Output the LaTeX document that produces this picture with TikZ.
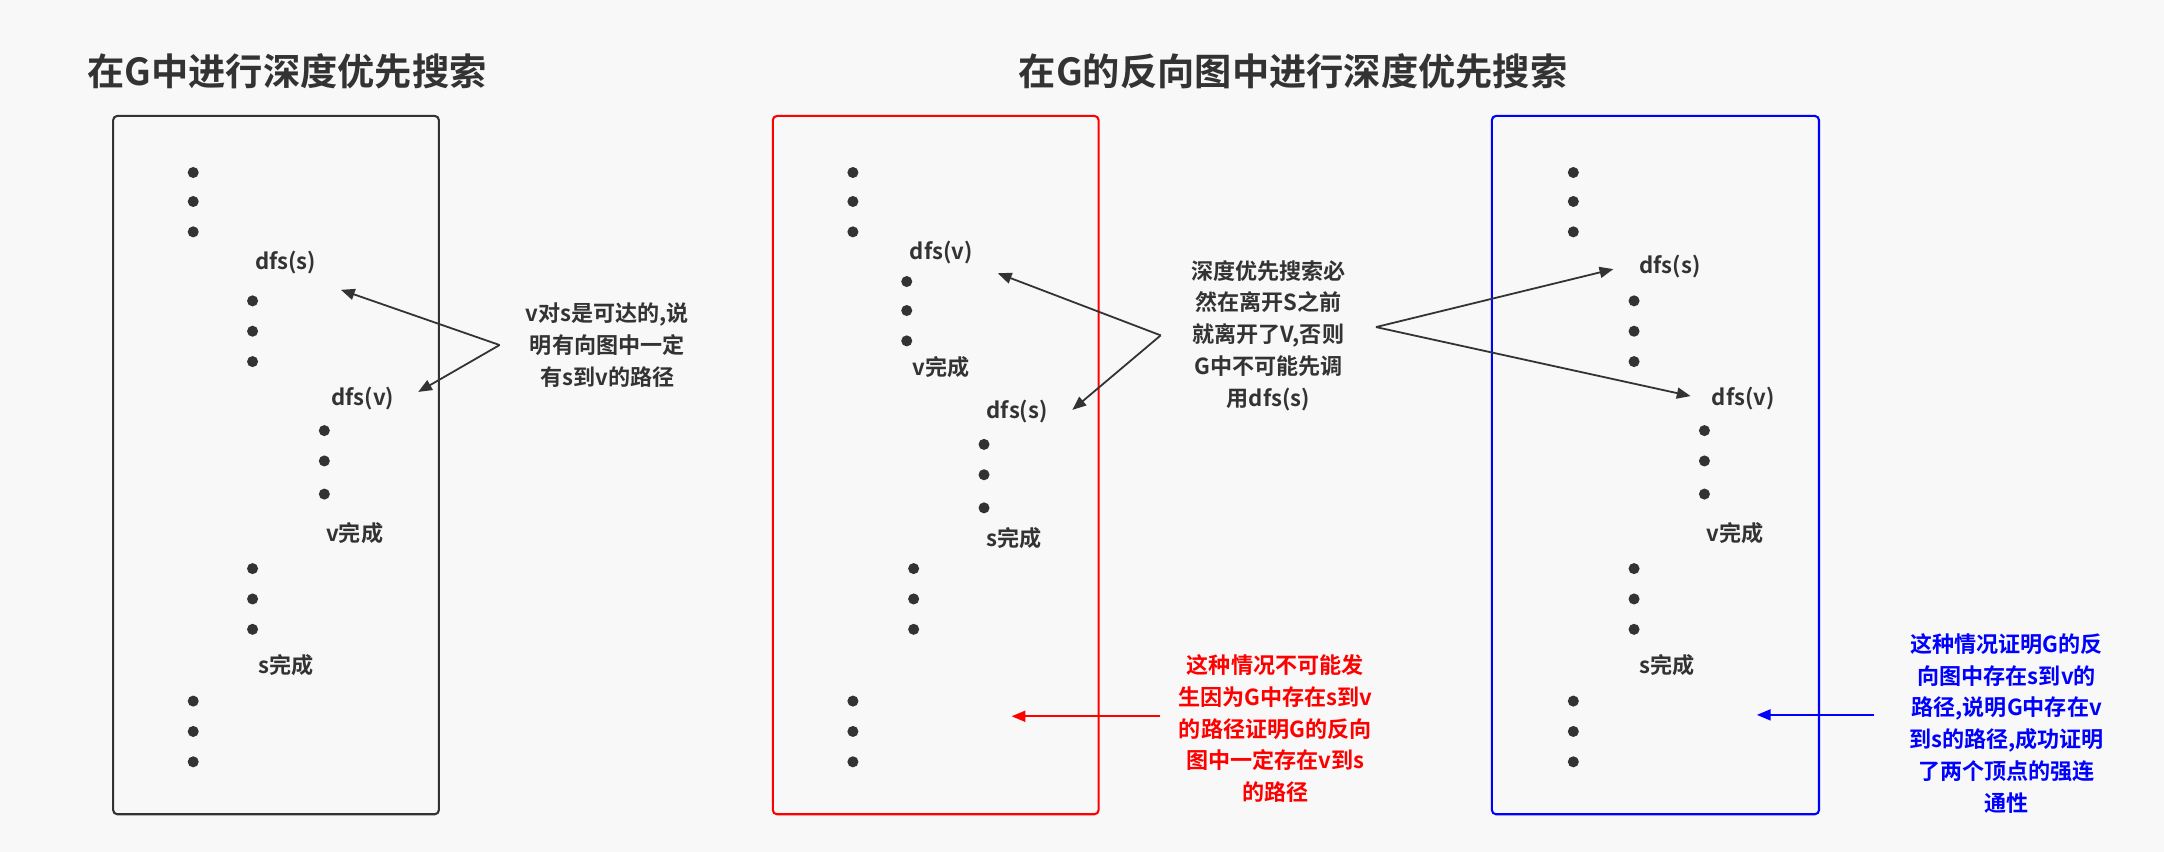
\documentclass[tikz,border=0pt]{standalone}
\usepackage{fontspec}
\setmainfont{Noto Sans CJK SC}[BoldFont={Noto Sans CJK SC Bold}]
\usetikzlibrary{arrows.meta}
\definecolor{ink}{HTML}{333333}
\definecolor{bg}{HTML}{F8F8F8}
\begin{document}
\begin{tikzpicture}[x=1pt,y=-1pt,
  lbl/.style={font=\bfseries\fontsize{16}{23}\selectfont,text=ink,align=center,inner sep=1pt},
  ttl/.style={font=\bfseries\fontsize{27}{30}\selectfont,text=ink},
  pt/.style={circle,fill=ink,inner sep=0pt,minimum size=8pt},
  col/.style={draw=#1,line width=1.5pt,rounded corners=3pt},
  arr/.style={-{Triangle[length=10pt,width=8pt]},line width=1.3pt,draw=#1}]
\fill[bg] (0,0) rectangle (1568,617);
\useasboundingbox (0,0) rectangle (1568,617);
\node[ttl] (t1) at (208,52) {在G中进行深度优先搜索};
\node[ttl] (t2) at (937,52) {在G的反向图中进行深度优先搜索};
\draw[col=ink] (82,84) rectangle (318,590);
\draw[col=red] (560,84) rectangle (796,590);
\draw[col=blue] (1081,84) rectangle (1318,590);
% dots
\foreach \x/\ys [count=\i] in {140/{125,146,168},183/{218,240,262},235/{312,334,358},183/{412,434,456},140/{508,530,552},
  618/{125,146,168},657/{204,225,247},713/{322,344,368},662/{412,434,456},618/{508,530,552},
  1140/{125,146,168},1184/{218,240,262},1235/{312,334,358},1184/{412,434,456},1140/{508,530,552}}
  \foreach \y [count=\j] in \ys \node[pt] (d\i-\j) at (\x,\y) {};
% box 1
\node[lbl] (a1) at (207,190) {dfs(s)};
\node[lbl] (a2) at (263,289) {dfs(v)};
\node[lbl] (a3) at (257,386) {v完成};
\node[lbl] (a4) at (207,482) {s完成};
\node[lbl] (n1) at (440,250) {v对s是可达的,说\\明有向图中一定\\有s到v的路径};
\coordinate (n1o) at (362,250);
\coordinate (a1e) at (247,210);
\coordinate (a2e) at (303,284);
\draw[arr=ink] (n1o) -- (a1e);
\draw[arr=ink] (n1o) -- (a2e);
% box 2
\node[lbl] (b1) at (682,183) {dfs(v)};
\node[lbl] (b2) at (682,266) {v完成};
\node[lbl] (b3) at (737,298) {dfs(s)};
\node[lbl] (b4) at (735,390) {s完成};
\node[lbl] (n2) at (919,243) {深度优先搜索必\\然在离开S之前\\就离开了V,否则\\G中不可能先调\\用dfs(s)};
\coordinate (n2l) at (841,243);
\coordinate (n2r) at (997,237);
\coordinate (b1e) at (723,198);
\coordinate (b3e) at (777,297);
\draw[arr=ink] (n2l) -- (b1e);
\draw[arr=ink] (n2l) -- (b3e);
% box 3
\node[lbl] (c1) at (1210,193) {dfs(s)};
\node[lbl] (c2) at (1263,289) {dfs(v)};
\node[lbl] (c3) at (1257,386) {v完成};
\node[lbl] (c4) at (1208,482) {s完成};
\coordinate (c1e) at (1169,195);
\coordinate (c2e) at (1225,287);
\draw[arr=ink] (n2r) -- (c1e);
\draw[arr=ink] (n2r) -- (c2e);
% notes
\node[lbl,text=red] (n3) at (924,528) {这种情况不可能发\\生因为G中存在s到v\\的路径证明G的反向\\图中一定存在v到s\\的路径};
\coordinate (n3e) at (733,519);
\draw[arr=red] (n3.west |- n3e) ++(-12,0) coordinate (n3s) (n3s) -- (n3e);
\node[lbl,text=blue] (n4) at (1454,524) {这种情况证明G的反\\向图中存在s到v的\\路径,说明G中存在v\\到s的路径,成功证明\\了两个顶点的强连\\通性};
\coordinate (n4e) at (1273,518);
\coordinate (n4s) at (1358,518);
\draw[arr=blue] (n4s) -- (n4e);
\end{tikzpicture}
\end{document}
